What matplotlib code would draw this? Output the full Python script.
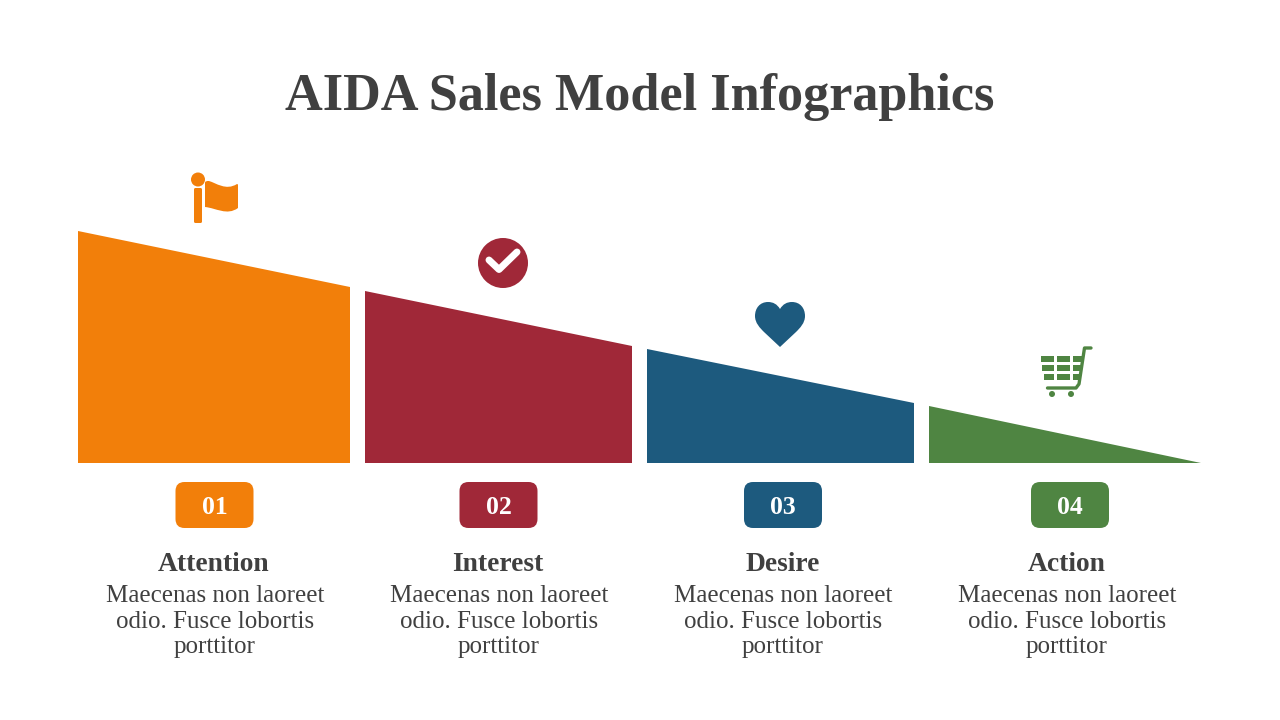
import matplotlib
matplotlib.use('Agg')
import matplotlib.pyplot as plt
from matplotlib.patches import Polygon, Circle, FancyBboxPatch, PathPatch, Rectangle
from matplotlib.path import Path

title = 'AIDA Sales Model Infographics'
numbers = ['01', '02', '03', '04']
stages = ['Attention', 'Interest', 'Desire', 'Action']
body_lines = ['Maecenas non laoreet', 'odio. Fusce lobortis', 'porttitor']

# height of each slab above the baseline, left and right end
left_heights = [232, 172, 114, 57]
right_heights = [176, 117, 60, 0]
slab_left = [78, 365, 647, 929]
slab_right = [350, 632, 914, 1201]

colors = ['#F27F0A', '#A02838', '#1D5A7E', '#4F8542']
text_color = '#404040'

badge_centers = [214.5, 498.5, 783, 1070]
stage_centers = [214, 498, 783, 1067]
body_centers = [215, 499, 783, 1067]
baseline = 463

plt.rcParams['font.family'] = ['Liberation Serif', 'DejaVu Serif']

fig = plt.figure(figsize=(12.8, 7.2), dpi=100)
ax = fig.add_axes([0, 0, 1, 1])
ax.set_xlim(0, 1280)
ax.set_ylim(720, 0)
ax.axis('off')

ax.text(640, 110, title, ha='center', va='baseline', fontsize=37.6, fontweight='bold', color=text_color)

for i in range(4):
    ax.add_patch(Polygon([
        (slab_left[i], baseline),
        (slab_left[i], baseline - left_heights[i]),
        (slab_right[i], baseline - right_heights[i]),
        (slab_right[i], baseline),
    ], closed=True, facecolor=colors[i], edgecolor='none'))

    cx = badge_centers[i]
    ax.add_patch(FancyBboxPatch((cx - 31, 490), 62, 30, boxstyle='round,pad=8,rounding_size=9',
                                facecolor=colors[i], edgecolor='none', mutation_aspect=1))
    ax.text(cx, 514, numbers[i], ha='center', va='baseline', fontsize=18.5, fontweight='bold', color='white')

    ax.text(stage_centers[i], 571, stages[i], ha='center', va='baseline', fontsize=19.8,
            fontweight='bold', color=text_color)
    for line, y in zip(body_lines, [602, 628, 653]):
        ax.text(body_centers[i], y, line, ha='center', va='baseline', fontsize=18, color=text_color)

# flag icon
ax.add_patch(Circle((198, 179.5), 7, facecolor=colors[0], edgecolor='none'))
ax.add_patch(FancyBboxPatch((195.5, 189.5), 5, 32, boxstyle='round,pad=1.5,rounding_size=1.5',
                            facecolor=colors[0], edgecolor='none'))
flag = Path([(205, 183), (205, 181), (207, 181), (209, 181),
             (216, 183), (226, 191), (237, 184),
             (238, 184), (238, 185), (238, 186),
             (238, 208),
             (227, 216), (216, 208), (205, 207),
             (205, 183)],
            [Path.MOVETO, Path.CURVE4, Path.CURVE4, Path.CURVE4,
             Path.CURVE4, Path.CURVE4, Path.CURVE4,
             Path.CURVE4, Path.CURVE4, Path.CURVE4,
             Path.LINETO,
             Path.CURVE4, Path.CURVE4, Path.CURVE4,
             Path.CLOSEPOLY])
ax.add_patch(PathPatch(flag, facecolor=colors[0], edgecolor='none'))

# check icon
ax.add_patch(Circle((503, 263), 25, facecolor=colors[1], edgecolor='none'))
ax.plot([489, 499, 517], [260, 269.5, 252], color='white', lw=5, solid_capstyle='round',
        solid_joinstyle='round')

# heart icon
heart = Path([(780, 309),
              (777, 304), (773, 302), (768, 302),
              (760, 302), (755, 308), (755, 316),
              (755, 323), (760, 328), (764, 332),
              (780, 347),
              (796, 332),
              (800, 328), (805, 323), (805, 316),
              (805, 308), (800, 302), (792, 302),
              (787, 302), (783, 304), (780, 309),
              (780, 309)],
             [Path.MOVETO,
              Path.CURVE4, Path.CURVE4, Path.CURVE4,
              Path.CURVE4, Path.CURVE4, Path.CURVE4,
              Path.CURVE4, Path.CURVE4, Path.CURVE4,
              Path.LINETO, Path.LINETO,
              Path.CURVE4, Path.CURVE4, Path.CURVE4,
              Path.CURVE4, Path.CURVE4, Path.CURVE4,
              Path.CURVE4, Path.CURVE4, Path.CURVE4,
              Path.CLOSEPOLY])
ax.add_patch(PathPatch(heart, facecolor=colors[2], edgecolor='none'))

# cart icon
for y0, x_first, x_last in [(356, 1041, 1082), (365, 1042, 1081), (374, 1044, 1080)]:
    for x0, x1 in [(x_first, 1054), (1057, 1070), (1073, x_last)]:
        ax.add_patch(Rectangle((x0, y0), x1 - x0, 6, facecolor=colors[3], edgecolor='none'))
ax.plot([1091, 1084.5, 1079, 1076, 1047.5], [348, 348, 384, 388, 388], color=colors[3], lw=2.4,
        solid_capstyle='round', solid_joinstyle='round')
for wx in [1052, 1071]:
    ax.add_patch(Circle((wx, 394), 3, facecolor=colors[3], edgecolor='none'))

fig.savefig('out.png', dpi=100)
